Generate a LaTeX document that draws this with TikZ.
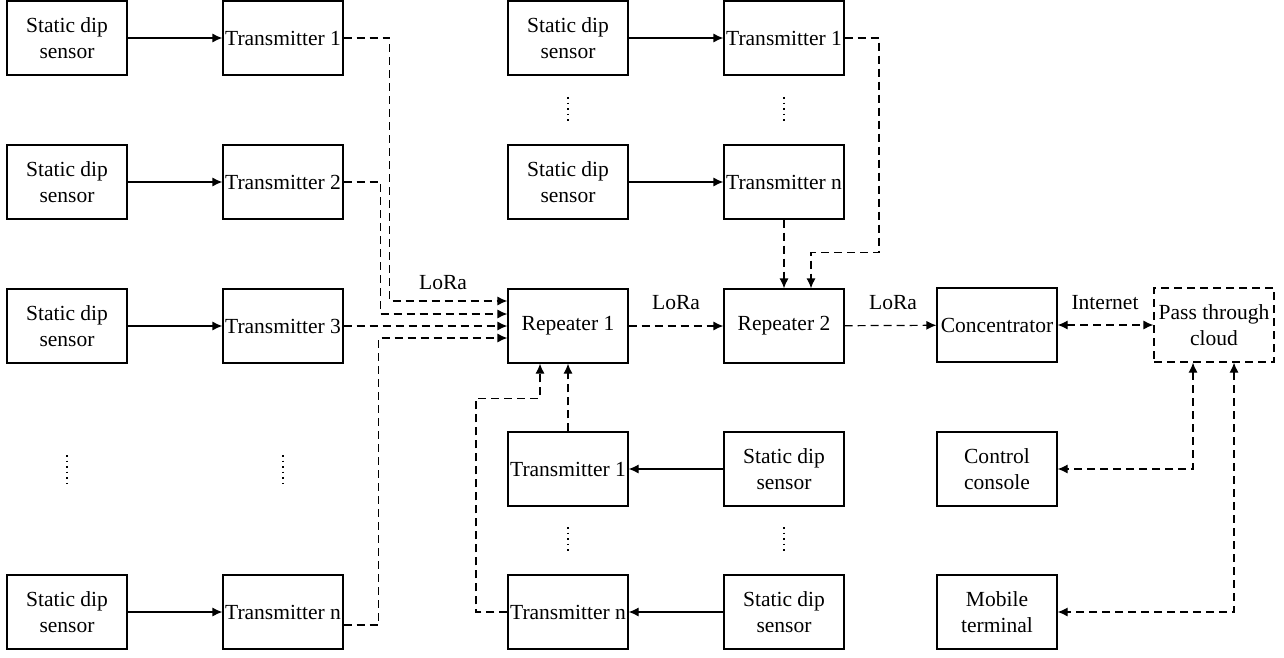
\documentclass[tikz,border=0pt]{standalone}
\usepackage{fontspec}
\setmainfont{Liberation Serif}
\usetikzlibrary{calc, arrows.meta}

\begin{document}
\begin{tikzpicture}[x=0.5bp, y=-0.5bp,
  box/.style={draw, semithick, minimum width=60bp, minimum height=37bp, inner xsep=0.5bp, inner ysep=1bp, align=center, font=\fontsize{10.8}{13}\selectfont},
  sline/.style={->, semithick, >={Latex[length=5bp, width=4.5bp]}},
  dline/.style={->, semithick, >={Latex[length=5bp, width=4.5bp]}, dash pattern=on 4bp off 2.5bp},
  lbl/.style={font=\fontsize{10.8}{13}\selectfont}]
\useasboundingbox (0,0) rectangle (1284,657);
% Left group
\node[box] (s1) at (67,38) {Static dip\\sensor};
\node[box] (t1) at (283,38) {Transmitter 1};
\node[box] (s2) at (67,182) {Static dip\\sensor};
\node[box] (t2) at (283,182) {Transmitter 2};
\node[box] (s3) at (67,326) {Static dip\\sensor};
\node[box] (t3) at (283,326) {Transmitter 3};
\node[box] (sn) at (67,612) {Static dip\\sensor};
\node[box] (tn) at (283,612) {Transmitter n};
% Upper middle group
\node[box] (us1) at (568,38) {Static dip\\sensor};
\node[box] (ut1) at (784,38) {Transmitter 1};
\node[box] (usn) at (568,182) {Static dip\\sensor};
\node[box] (utn) at (784,182) {Transmitter n};
% Repeaters
\node[box] (r1) at (568,326) {Repeater 1};
\node[box] (r2) at (784,326) {Repeater 2};
% Lower middle group
\node[box] (lt1) at (568,469) {Transmitter 1};
\node[box] (ls1) at (784,469) {Static dip\\sensor};
\node[box] (ltn) at (568,612) {Transmitter n};
\node[box] (lsn) at (784,612) {Static dip\\sensor};
% Right group
\node[box] (con) at (997,325) {Concentrator};
\node[box, dash pattern=on 4bp off 2.5bp] (cloud) at (1214,325) {Pass through\\cloud};
\node[box] (cc) at (997,469) {Control\\console};
\node[box] (mt) at (997,612) {Mobile\\terminal};
% Dots
\draw[dotted, thick] (67,455) -- (67,483);
\draw[dotted, thick] (283,455) -- (283,483);
\draw[dotted, thick] (568,97) -- (568,124);
\draw[dotted, thick] (784,97) -- (784,124);
\draw[dotted, thick] (568,527) -- (568,554);
\draw[dotted, thick] (784,527) -- (784,554);
% Labels
\node[lbl] (lora1) at (443,283) {LoRa};
\node[lbl] (lora2) at (676,303) {LoRa};
\node[lbl] (lora3) at (893,303) {LoRa};
\node[lbl] (inet) at (1105,303) {Internet};
% Arrows
\draw[sline] (s1) -- (t1);
\draw[sline] (s2) -- (t2);
\draw[sline] (s3) -- (t3);
\draw[sline] (sn) -- (tn);
\draw[sline] (us1) -- (ut1);
\draw[sline] (usn) -- (utn);
\draw[sline] (ls1) -- (lt1);
\draw[sline] (lsn) -- (ltn);
% Wireless links
\draw[dline] (t1.east) -| ($(r1.west)+(-118,-25)$) -- ($(r1.west)+(0,-25)$);
\draw[dline] (t2.east) -| ($(r1.west)+(-127,-12)$) -- ($(r1.west)+(0,-12)$);
\draw[dline] (t3) -- (r1);
\draw[dline] ($(tn.east)+(0,13)$) -| ($(r1.west)+(-129,12)$) -- ($(r1.west)+(0,12)$);
\draw[dline] (lt1) -- (r1);
\draw[dline] (ltn.west) -| ($(r1.south)+(-92,35)$) -| ($(r1.south)+(-28,0)$);
\draw[dline] (utn) -- (r2);
\draw[dline] (ut1.east) -| ($(r2.north)+(95,-36)$) -| ($(r2.north)+(27,0)$);
\draw[dline] (r1) -- (r2);
\draw[dline] (r2) -- (con);
\draw[dline, <->] (con) -- (cloud);
\draw[dline, <->] ($(cloud.south)+(-21,0)$) |- (cc.east);
\draw[dline, <->] ($(cloud.south)+(20,0)$) |- (mt.east);
\end{tikzpicture}
\end{document}
